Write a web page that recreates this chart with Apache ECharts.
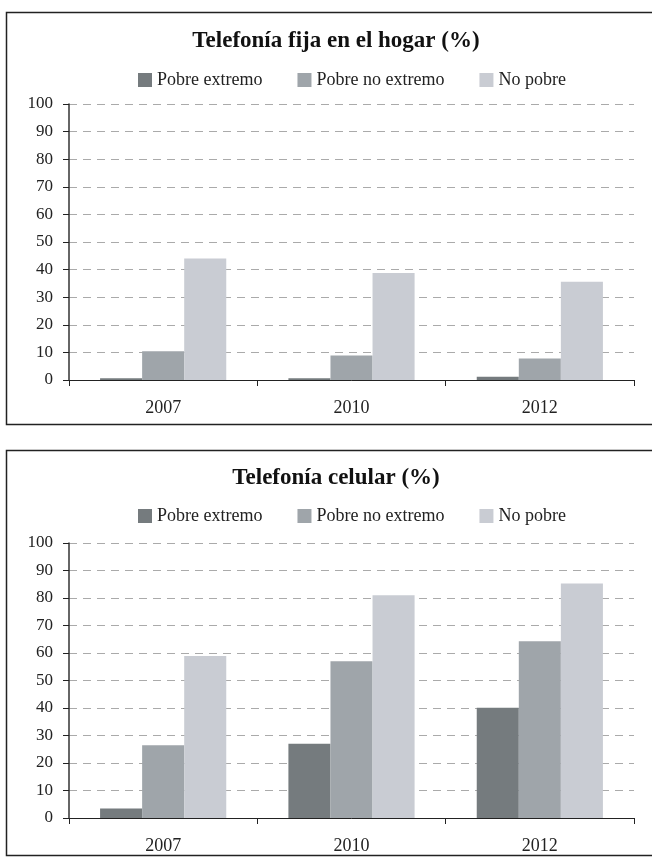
<!DOCTYPE html>
<html>
<head>
<meta charset="utf-8">
<script src="https://cdn.jsdelivr.net/npm/echarts@6/dist/echarts.min.js"></script>
<style>
  html, body { margin: 0; padding: 0; background: #fff; }
  #chart { width: 652px; height: 857px; }
</style>
</head>
<body>
<div id="chart"></div>
<script>
// datos
const years = ['2007', '2010', '2012'];
const seriesNames = ['Pobre extremo', 'Pobre no extremo', 'No pobre'];
const seriesColors = ['#757b7e', '#9fa5aa', '#c9ccd3'];
const fijaExtremo = [0.6, 0.6, 1.2];
const fijaNoExtremo = [10.4, 8.9, 7.8];
const fijaNoPobre = [44.0, 38.8, 35.6];
const celularExtremo = [3.5, 27.0, 40.1];
const celularNoExtremo = [26.5, 57.0, 64.3];
const celularNoPobre = [58.9, 81.0, 85.3];

const font = 'Liberation Serif';

function xAxisOf(gi) {
    return {
        type: 'category', gridIndex: gi, data: years,
        axisLine: { lineStyle: { color: '#222', width: 1 } },
        axisTick: { show: true, length: 6, lineStyle: { color: '#222' } },
        axisLabel: { fontFamily: font, fontSize: 18, color: '#222', margin: 19 }
    };
}
function yAxisOf(gi) {
    return {
        type: 'value', gridIndex: gi, min: 0, max: 100, interval: 10,
        axisLine: { show: true, lineStyle: { color: '#333', width: 1.5 } },
        axisTick: { show: true, length: 6, lineStyle: { color: '#222' } },
        axisLabel: { fontFamily: font, fontSize: 17, color: '#222', margin: 16 },
        splitLine: { show: true, lineStyle: { color: '#aaa', type: [8, 6], width: 1 } }
    };
}
function barsOf(gi, lists) {
    return lists.map((d, i) => ({
        name: seriesNames[i], type: 'bar', xAxisIndex: gi, yAxisIndex: gi,
        data: d, barGap: '0%', barCategoryGap: '33%',
        itemStyle: { color: seriesColors[i] }
    }));
}
function legendOf(top) {
    return {
        top: top, left: 133, data: seriesNames, icon: 'rect',
        itemWidth: 14, itemHeight: 14, itemGap: 35,
        textStyle: { fontFamily: font, fontSize: 18, color: '#222' }
    };
}
function titleOf(text, top) {
    return {
        text: text, left: 331, top: top, textAlign: 'center',
        textStyle: { fontFamily: font, fontSize: 23, fontWeight: 'bold', color: '#111' }
    };
}

let myChart = echarts.init(document.getElementById('chart'));
myChart.setOption({
    animation: false,
    graphic: [
        { type: 'rect', shape: { x: 6.5, y: 12.5, width: 660, height: 412 }, style: { fill: 'none', stroke: '#222', lineWidth: 1.5 } },
        { type: 'rect', shape: { x: 6.5, y: 450.5, width: 660, height: 405 }, style: { fill: 'none', stroke: '#222', lineWidth: 1.5 } }
    ],
    title: [
        titleOf('Telefonía fija en el hogar (%)', 25),
        titleOf('Telefonía celular (%)', 462)
    ],
    legend: [legendOf(66), legendOf(502)],
    grid: [
        { left: 69, right: 18, top: 104, height: 276 },
        { left: 69, right: 18, top: 543, height: 275 }
    ],
    xAxis: [xAxisOf(0), xAxisOf(1)],
    yAxis: [yAxisOf(0), yAxisOf(1)],
    series: barsOf(0, [fijaExtremo, fijaNoExtremo, fijaNoPobre])
        .concat(barsOf(1, [celularExtremo, celularNoExtremo, celularNoPobre]))
});
</script>
</body>
</html>
